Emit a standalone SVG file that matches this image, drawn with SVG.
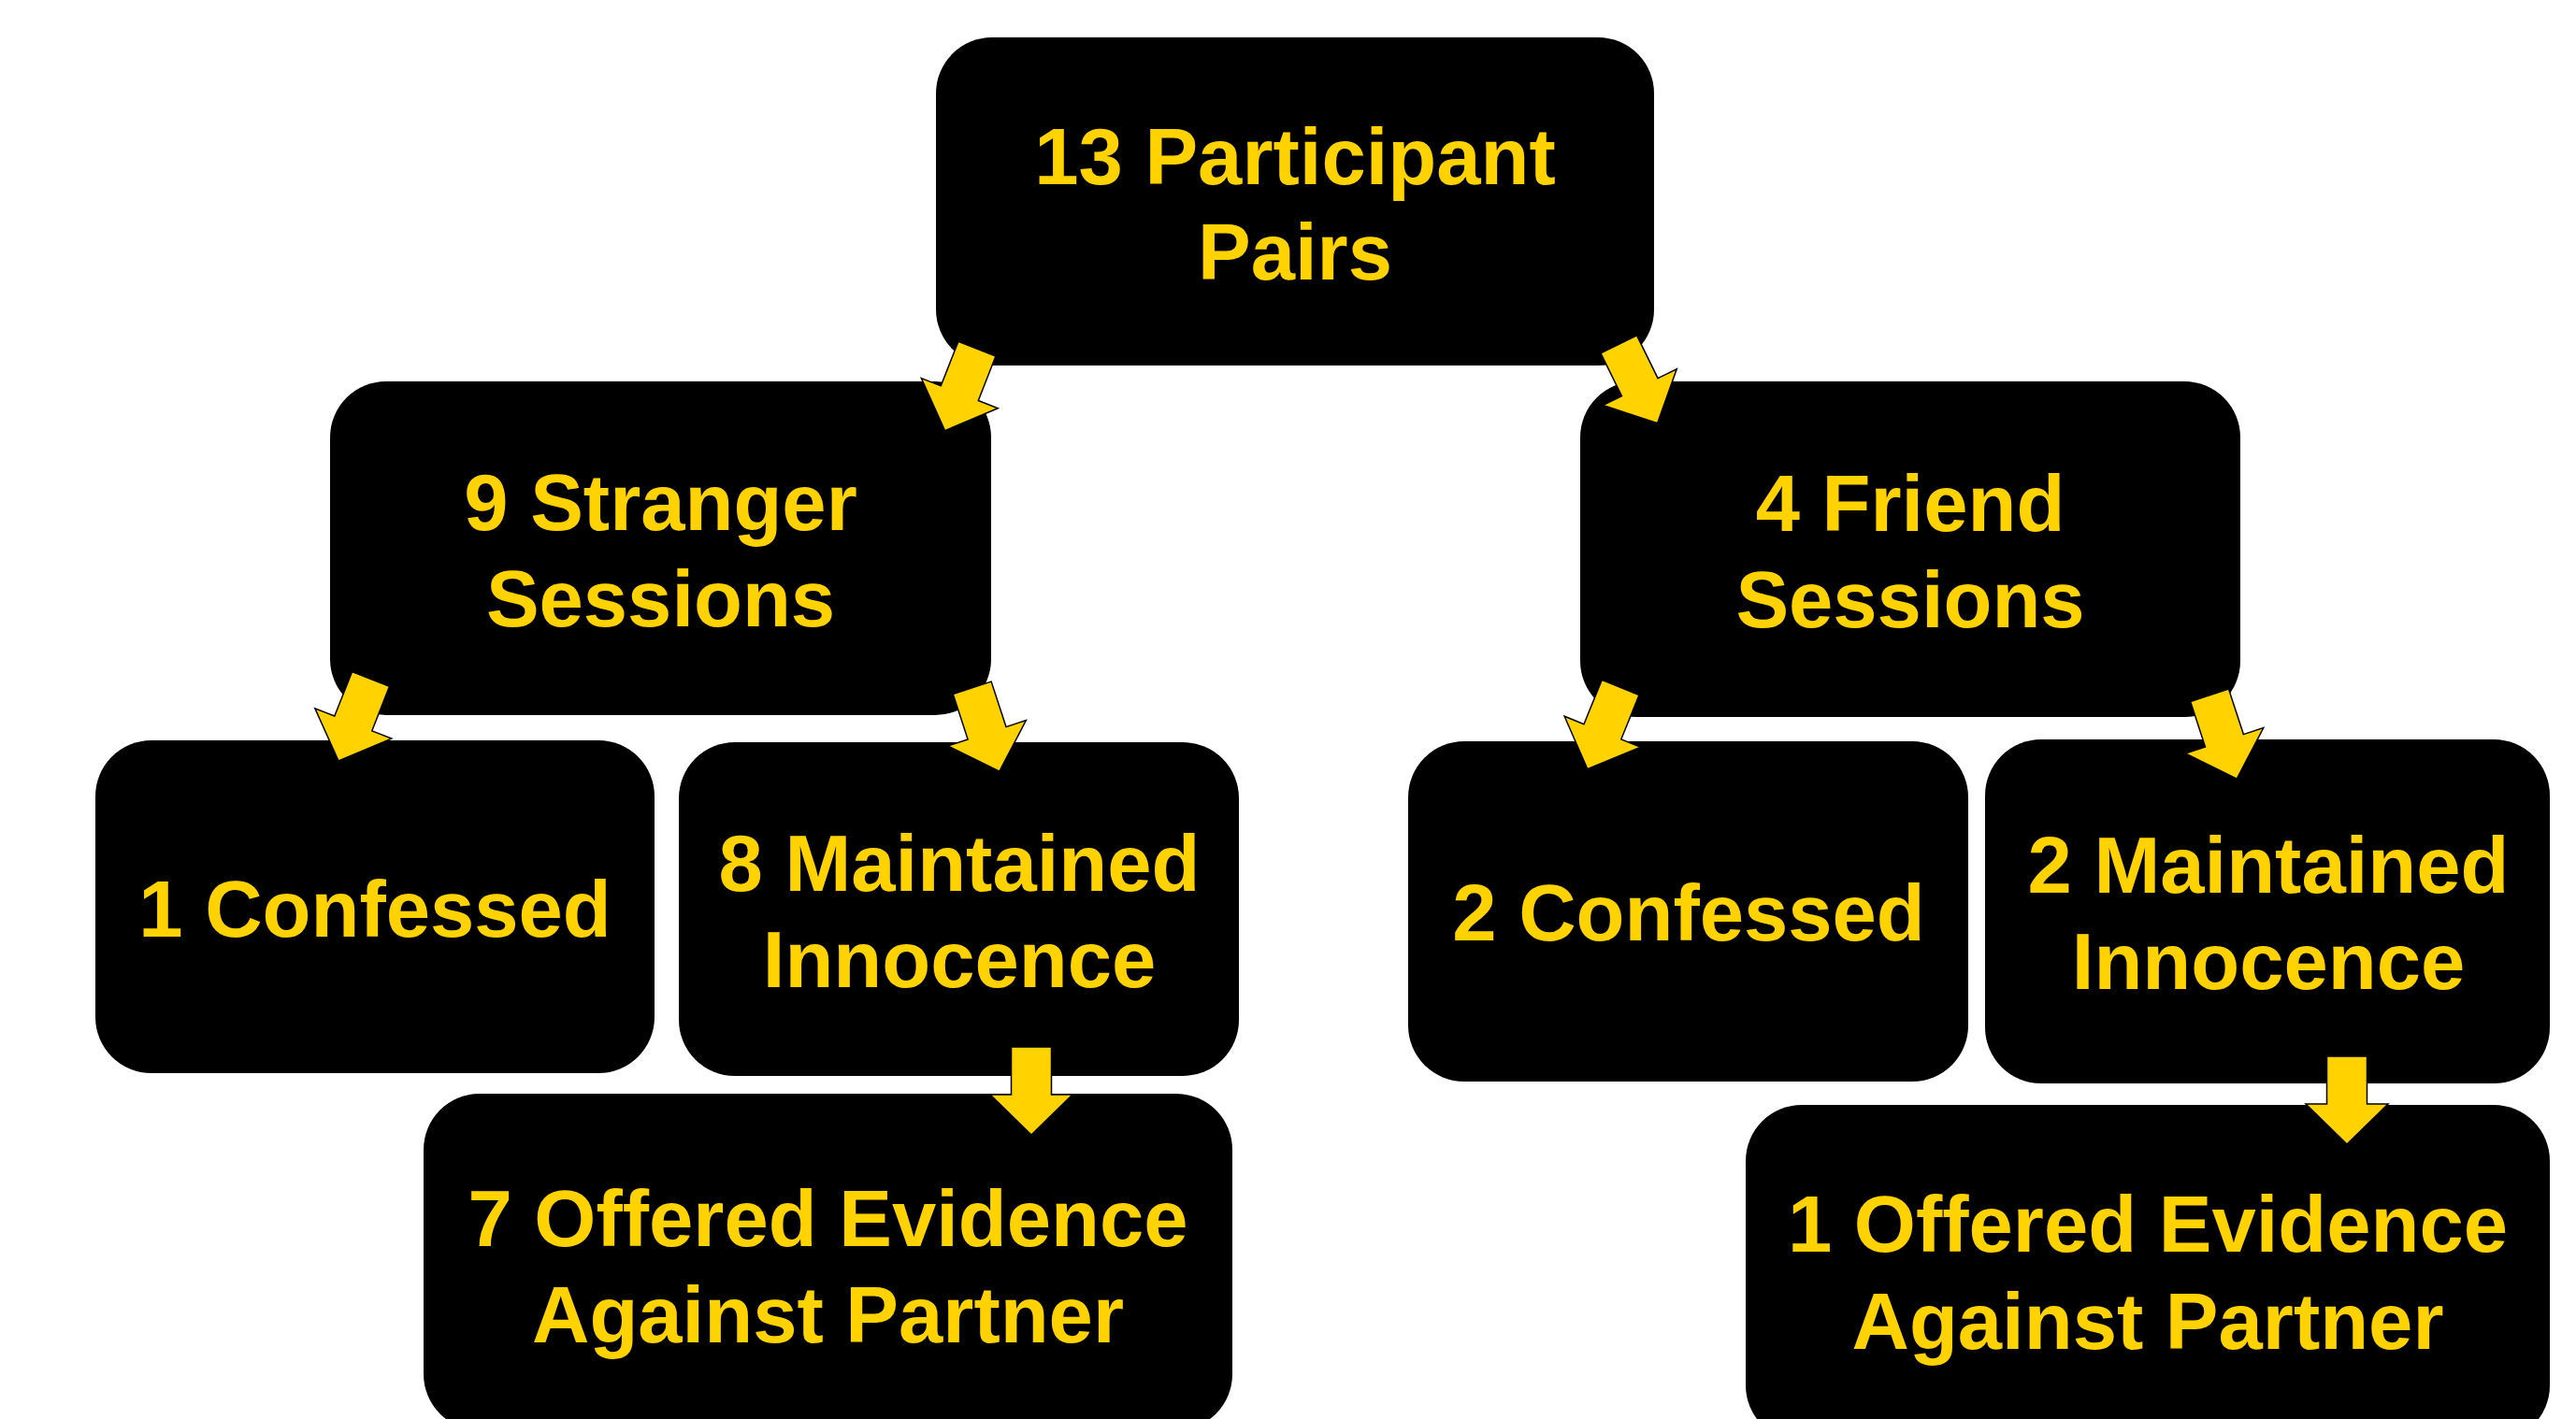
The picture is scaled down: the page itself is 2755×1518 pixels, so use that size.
<svg xmlns="http://www.w3.org/2000/svg" xmlns:xlink="http://www.w3.org/1999/xlink" width="2755" height="1518" viewBox="0 0 2755 1518">
<style>
.box{fill:#000000;}
.lbl{fill:#FFD200;font-family:"Liberation Sans",Arial,sans-serif;font-weight:bold;font-size:85px;text-anchor:middle;}
.arr{fill:#FFD200;stroke:#000000;stroke-width:1.5;stroke-linejoin:miter;}
</style>
<defs>
<path id="arrow" class="arr" d="M-21.5,0 H21.5 V51 H44 L0,94 L-44,51 H-21.5 Z"/>
</defs>
<rect width="2755" height="1518" fill="#ffffff"/>
<g id="n-pairs">
<rect class="box" x="1001" y="40" width="768" height="351" rx="60" ry="60"/>
<text class="lbl" x="1385" y="197">13 Participant</text>
<text class="lbl" x="1385" y="299">Pairs</text>
</g>
<g id="n-stranger">
<rect class="box" x="353" y="408" width="707" height="357" rx="60" ry="60"/>
<text class="lbl" x="706.5" y="567">9 Stranger</text>
<text class="lbl" x="706.5" y="670">Sessions</text>
</g>
<g id="n-friend">
<rect class="box" x="1690" y="408" width="706" height="359" rx="60" ry="60"/>
<text class="lbl" x="2043" y="568">4 Friend</text>
<text class="lbl" x="2043" y="671">Sessions</text>
</g>
<g id="n-confessed1">
<rect class="box" x="102" y="792" width="598" height="356" rx="60" ry="60"/>
<text class="lbl" x="401" y="1002">1 Confessed</text>
</g>
<g id="n-maintained8">
<rect class="box" x="726" y="794" width="599" height="357" rx="60" ry="60"/>
<text class="lbl" x="1026" y="953">8 Maintained</text>
<text class="lbl" x="1026" y="1056">Innocence</text>
</g>
<g id="n-confessed2">
<rect class="box" x="1506" y="793" width="599" height="364" rx="60" ry="60"/>
<text class="lbl" x="1806" y="1006">2 Confessed</text>
</g>
<g id="n-maintained2">
<rect class="box" x="2123" y="791" width="604" height="368" rx="60" ry="60"/>
<text class="lbl" x="2426" y="955">2 Maintained</text>
<text class="lbl" x="2426" y="1058">Innocence</text>
</g>
<g id="n-offered7">
<rect class="box" x="453" y="1170" width="865" height="360" rx="60" ry="60"/>
<text class="lbl" x="885.5" y="1333">7 Offered Evidence</text>
<text class="lbl" x="885.5" y="1436">Against Partner</text>
</g>
<g id="n-offered1">
<rect class="box" x="1867" y="1182" width="860" height="360" rx="60" ry="60"/>
<text class="lbl" x="2297" y="1339">1 Offered Evidence</text>
<text class="lbl" x="2297" y="1443">Against Partner</text>
</g>
<g id="connectors">
<use xlink:href="#arrow" transform="translate(1044.9,373.2) rotate(21.4)"/>
<use xlink:href="#arrow" transform="translate(1731.3,368.3) rotate(-26.1)"/>
<use xlink:href="#arrow" transform="translate(396.5,726.5) rotate(21.5)"/>
<use xlink:href="#arrow" transform="translate(1039.7,735.8) rotate(-18.1)"/>
<use xlink:href="#arrow" transform="translate(1733.1,735.5) rotate(22.1)"/>
<use xlink:href="#arrow" transform="translate(2363.1,743.8) rotate(-18.1)"/>
<use xlink:href="#arrow" transform="translate(1103,1120)"/>
<use xlink:href="#arrow" transform="translate(2510,1130)"/>
</g>
</svg>
